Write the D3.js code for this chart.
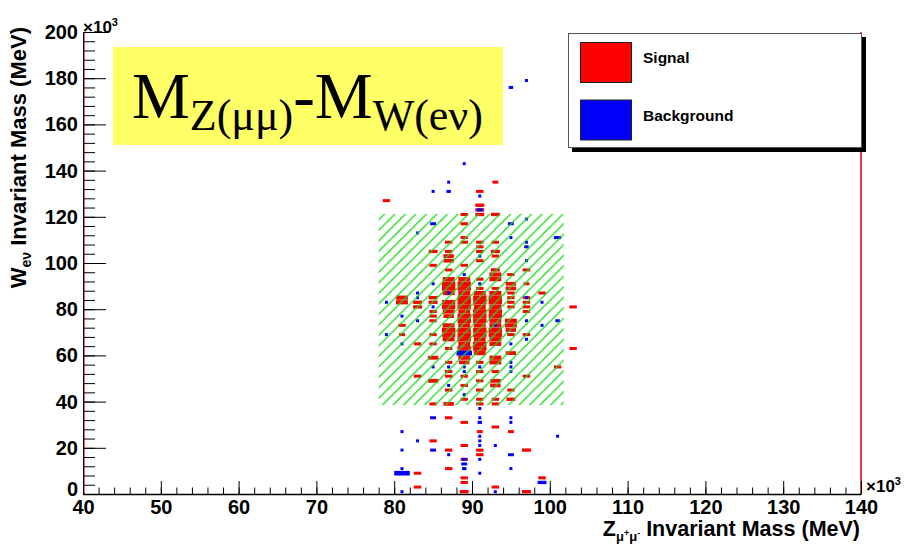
<!DOCTYPE html>
<html>
<head>
<meta charset="utf-8">
<script src="https://cdn.jsdelivr.net/npm/d3@7"></script>
<style>
  html, body { margin: 0; padding: 0; background: #ffffff; }
  svg { display: block; }
  text { font-family: "Liberation Sans", Arial, Helvetica, sans-serif; font-weight: bold; }
</style>
</head>
<body>
<svg id="chart" width="910" height="544"></svg>
<script>
// Axis ranges (in units of 10^3 MeV) and tick values
const zDomain = [40, 140];
const wDomain = [0, 200];
const zMajorTicks = [40, 50, 60, 70, 80, 90, 100, 110, 120, 130, 140];
const wMajorTicks = [0, 20, 40, 60, 80, 100, 120, 140, 160, 180, 200];
const zMinorTicks = d3.range(40, 140.01, 2);
const wMinorTicks = d3.range(0, 200.01, 4);
const binSize = 2;          // histogram bin width on both axes
const maxContent = 10.5;    // content that fills a whole bin

// Selection window (cut region) on Z and W masses
const zCut = [78, 101.8];
const wCut = [38.5, 121.2];

// Signal histogram: [Z bin centre, W bin centre, content]
const signalBins = [
  [79,127,5],[93,135,4],[91,131,5],[91,125,6],[91,123,6],[91,121,6],[89,121,5],[93,121,6],
  [89,117,5],[87,109,5],[89,111,5],[89,109,5],[91,109,5],[93,109,5],[91,107,5],
  [85,105,6],[87,105,5],[91,105,5],[93,105,6],[87,103,7],[87,101,7],[93,103,5],[91,101,5],
  [85,99,5],[89,99,5],[87,97,5],[93,97,6],[97,97,5],[93,95,8],[93,93,8],[91,93,5],[95,95,5],
  [87,93,8],[87,91,9],[87,89,9],[87,87,8],[87,83,9],[87,81,9],[87,79,8],[87,77,7],
  [87,73,8],[87,71,9],[87,69,9],[87,67,8],
  [89,93,8],[89,91,9],[89,89,9],[89,87,8],[89,85,9],[89,83,9],[89,81,9],[89,79,8],[89,77,9],
  [89,75,9],[89,73,8],[89,71,9],[89,69,9],[89,67,9],[89,65,8],[89,63,9],[89,61,9],[89,59,8],[89,57,7],
  [91,87,8],[91,85,9],[91,83,9],[91,81,8],[91,79,9],[91,77,9],[91,75,9],[91,73,8],[91,71,9],
  [91,69,9],[91,67,8],[91,65,9],[91,63,9],[91,61,8],[91,89,5],
  [93,87,8],[93,85,9],[93,83,9],[93,81,8],[93,79,9],[93,77,9],[93,75,8],[93,73,8],[93,71,9],
  [93,69,9],[93,67,8],[93,65,8],[93,59,8],[93,57,8],[93,89,5],
  [95,91,7],[95,89,7],[95,87,5],[95,85,5],[95,83,5],[95,81,5],[95,75,8],[95,73,8],[95,71,7],
  [95,69,5],[95,61,7],
  [97,91,4],[97,85,5],[97,83,5],[97,81,5],[97,79,5],[97,69,5],[99,87,5],[103,81,5],[103,63,5],
  [85,85,6],[85,83,6],[85,79,5],[85,77,5],[85,75,5],[85,69,5],[85,65,5],[85,59,7],[85,49,7],
  [85,39,5],[85,23,5],
  [83,83,6],[83,81,6],[83,65,5],[83,51,5],[83,9,5],[83,3,5],
  [81,85,8],[81,83,8],[81,73,5],[81,69,4],
  [87,63,5],[87,57,5],[87,53,5],[87,51,5],[87,45,5],[87,39,7],[87,33,5],[87,19,5],[87,11,5],
  [89,51,5],[89,47,5],[89,41,5],[89,31,5],[89,21,5],[89,15,5],[89,7,5],[89,5,5],[89,1,6],
  [91,57,5],[91,53,5],[91,49,5],[91,45,5],[91,41,5],[91,39,5],[91,27,4],[91,19,5],[91,17,5],
  [93,53,5],[93,49,7],[93,47,7],[93,41,5],[93,39,5],[93,29,5],[93,3,5],
  [95,45,5],[95,41,6],[95,27,4],
  [97,51,5],[97,19,6],[97,1,6],[99,7,5],[101,55,5]
];

// Background histogram: [Z bin centre, W bin centre, content]
const backgroundBins = [
  [87,135,2],[85,131,2],[87,131,3],[89,143,2],[95,176,3],[97,179,2],
  [91,129,2],[91,123,4],[95,117,4],[97,119,2],[85,117,4],[83,113,2],
  [95,111,2],[97,109,2],[101,111,5],[97,107,3],[91,103,2],[97,101,2],
  [89,95,2],[85,91,2],[91,91,2],[87,87,2],[83,87,2],[83,85,2],[97,85,2],
  [79,83,2],[85,81,2],[99,83,2],[81,77,2],[83,75,2],[97,75,2],[99,73,2],[101,75,3],[93,73,2],
  [79,69,2],[97,67,2],[81,65,2],[95,65,2],
  [89,61,10.5],
  [95,57,2],[95,55,2],[95,53,2],[85,55,2],[87,55,2],[89,55,2],[89,53,2],[91,55,2],
  [87,47,2],[89,43,2],[91,37,2],
  [85,33,4],[91,33,2],[91,31,3],[95,33,2],[95,31,2],
  [81,27,2],[83,23,2],[91,25,2],[91,23,2],[91,21,2],[101,25,2],[93,21,2],
  [81,19,2],[85,19,4],[87,17,2],[95,17,4],[91,15,2],
  [89,15,3],[89,13,4],[89,11,3],[95,11,2],[91,9,2],
  [81,9,10.5],[81,11,2],[81,1,2],[99,5,6],[93,1,2]
];

const legendItems = [
  { label: "Signal", color: "#ff0000" },
  { label: "Background", color: "#0000ff" }
];

const svg = d3.select("#chart");

const x = d3.scaleLinear().domain(zDomain).range([83, 861]);
const y = d3.scaleLinear().domain(wDomain).range([494, 32]);

// Frame sides
svg.append("line").attr("x1", 84).attr("x2", 84).attr("y1", y(200)).attr("y2", y(0))
  .attr("stroke", "#e00000").attr("stroke-width", 1.2);
svg.append("line").attr("x1", 861).attr("x2", 861).attr("y1", y(200)).attr("y2", y(0))
  .attr("stroke", "#d00000").attr("stroke-width", 1.5);

// Box sizes scale with the bin content
const bw = x(zDomain[0] + binSize) - x(zDomain[0]);
const bh = y(0) - y(binSize);
const frac = d3.scaleLinear().domain([0, maxContent]).range([0, 1]);
function boxW(d) { return Math.max(3, bw * frac(d[2])); }
function boxH(d) { return Math.max(3, bh * Math.min(1, frac(d[2]) + 0.15)); }

function drawBoxes(data, color) {
  svg.append("g").selectAll("rect").data(data).join("rect")
    .attr("x", d => x(d[0]) - boxW(d) / 2)
    .attr("y", d => y(d[1]) - boxH(d) / 2)
    .attr("width", boxW)
    .attr("height", boxH)
    .attr("fill", color);
}
drawBoxes(signalBins, "#ff0000");
drawBoxes(backgroundBins, "#0000ff");

// Hatched cut window
const defs = svg.append("defs");
const pat = defs.append("pattern").attr("id", "hatch")
  .attr("patternUnits", "userSpaceOnUse").attr("width", 10.5).attr("height", 10.5);
pat.append("path").attr("d", "M-1,1 L1,-1 M0,10.5 L10.5,0 M9.5,11.5 L11.5,9.5")
  .attr("stroke", "#14dc14").attr("stroke-width", 1.3).attr("fill", "none");
svg.append("rect")
  .attr("x", x(zCut[0])).attr("y", y(wCut[1]))
  .attr("width", x(zCut[1]) - x(zCut[0])).attr("height", y(wCut[0]) - y(wCut[1]))
  .attr("fill", "url(#hatch)");

// X axis: minor then major ticks pointing up
svg.append("g").attr("transform", `translate(0,${y(0)})`)
  .call(d3.axisBottom(x).tickValues(zMinorTicks).tickSize(-6.5).tickSizeOuter(0).tickFormat(""))
  .call(g => g.select(".domain").remove());
const xAxis = svg.append("g").attr("transform", `translate(0,${y(0)})`)
  .call(d3.axisBottom(x).tickValues(zMajorTicks).tickSize(-13).tickSizeOuter(0).tickPadding(6).tickFormat(d3.format("d")));
xAxis.select(".domain").attr("stroke-width", 1.5);
xAxis.selectAll("text").attr("font-size", 20).attr("fill", "#000");

// Y axis: ticks pointing right
svg.append("g").attr("transform", `translate(83,0)`)
  .call(d3.axisLeft(y).tickValues(wMinorTicks).tickSize(-12).tickSizeOuter(0).tickFormat(""))
  .call(g => g.select(".domain").remove());
const yAxis = svg.append("g").attr("transform", `translate(83,0)`)
  .call(d3.axisLeft(y).tickValues(wMajorTicks).tickSize(-23).tickSizeOuter(0).tickPadding(5).tickFormat(d3.format("d")));
yAxis.selectAll("text").attr("font-size", 20).attr("fill", "#000");
// lift the zero label clear of the first Z label
yAxis.selectAll(".tick").filter(d => d === 0).select("text").attr("dy", "0.05em");

// Exponent labels
function expLabel(px, py) {
  const t = svg.append("text").attr("x", px).attr("y", py).attr("font-size", 17);
  t.append("tspan").text("×10");
  t.append("tspan").attr("font-size", 11).attr("dy", -7).text("3");
}
expLabel(83, 33);
expLabel(866, 492);

// Axis titles
const xt = svg.append("text").attr("x", 860).attr("y", 536).attr("text-anchor", "end").attr("font-size", 21.5);
xt.append("tspan").text("Z");
xt.append("tspan").attr("font-size", 13).attr("dy", 5).text("μ");
xt.append("tspan").attr("font-size", 9).attr("dy", -5).text("+");
xt.append("tspan").attr("font-size", 13).attr("dy", 5).text("μ");
xt.append("tspan").attr("font-size", 9).attr("dy", -5).text("-");
xt.append("tspan").text(" Invariant Mass (MeV)");

const yt = svg.append("text").attr("transform", "translate(26,27) rotate(-90)")
  .attr("text-anchor", "end").attr("font-size", 22);
yt.append("tspan").text("W");
yt.append("tspan").attr("font-size", 14).attr("dy", 5).text("eν");
yt.append("tspan").attr("dy", -5).text(" Invariant Mass (MeV)");

// Title box
svg.append("rect").attr("x", 113).attr("y", 47).attr("width", 390).attr("height", 98).attr("fill", "#ffff66");
const title = svg.append("text").attr("x", 132).attr("y", 118)
  .style("font-family", "'Liberation Serif','Times New Roman',serif").style("font-weight", "normal")
  .attr("font-size", 65);
title.append("tspan").text("M");
title.append("tspan").attr("font-size", 44).attr("dy", 12).text("Z(μμ)");
title.append("tspan").attr("dy", -12).text("-M");
title.append("tspan").attr("font-size", 44).attr("dy", 12).text("W(eν)");

// Legend
const lg = svg.append("g");
lg.append("rect").attr("x", 572).attr("y", 37).attr("width", 294).attr("height", 115).attr("fill", "#000");
lg.append("rect").attr("x", 568.5).attr("y", 33.5).attr("width", 293).attr("height", 114)
  .attr("fill", "#fff").attr("stroke", "#555").attr("stroke-width", 1);
const li = lg.selectAll("g.item").data(legendItems).join("g").attr("class", "item")
  .attr("transform", (d, i) => `translate(0,${i * 57.5})`);
li.append("rect").attr("x", 580.5).attr("y", 42.5).attr("width", 51).attr("height", 40)
  .attr("fill", d => d.color).attr("stroke", "#222").attr("stroke-width", 1);
li.append("text").attr("x", 643).attr("y", 63).attr("font-size", 15.5).attr("fill", "#000")
  .text(d => d.label);
</script>
</body>
</html>
